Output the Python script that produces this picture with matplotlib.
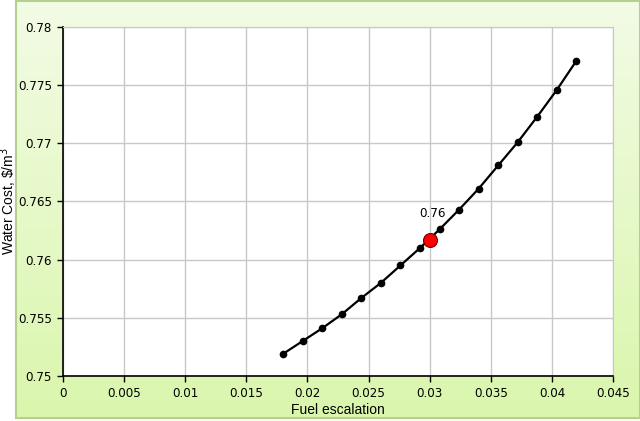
import numpy as np
import matplotlib
matplotlib.use("Agg")
import matplotlib.pyplot as plt
from matplotlib.patches import Rectangle

# values
fuel_escalation = [0.018, 0.0196, 0.0212, 0.0228, 0.0244, 0.026, 0.0276, 0.0292,
                   0.0308, 0.0324, 0.034, 0.0356, 0.0372, 0.0388, 0.0404, 0.042]
water_cost = [0.7519, 0.7530, 0.7541, 0.7553, 0.7567, 0.7580, 0.7595, 0.7610,
              0.7626, 0.7643, 0.7661, 0.7681, 0.7701, 0.7723, 0.7746, 0.7771]
base_x = 0.03
base_y = 0.7617
base_label = "0.76"

x_ticks = [0, 0.005, 0.01, 0.015, 0.02, 0.025, 0.03, 0.035, 0.04, 0.045]
x_ticklabels = ["0", "0.005", "0.01", "0.015", "0.02", "0.025", "0.03", "0.035", "0.04", "0.045"]
y_ticks = [0.75, 0.755, 0.76, 0.765, 0.77, 0.775, 0.78]
y_ticklabels = ["0.75", "0.755", "0.76", "0.765", "0.77", "0.775", "0.78"]

fig = plt.figure(figsize=(6.4, 4.21), dpi=100)
fig.patch.set_facecolor("white")

# green gradient frame behind the chart
bg = fig.add_axes([0.025, 0.007, 0.975, 0.991])
bg.set_xlim(0, 1)
bg.set_ylim(0, 1)
grad = np.linspace(0, 1, 256).reshape(-1, 1)
top_col = np.array([0.95, 0.985, 0.90])
bot_col = np.array([0.855, 0.965, 0.675])
img = bot_col + (top_col - bot_col) * grad
bg.imshow(img[:, None, :].repeat(2, axis=1), extent=(0, 1, 0, 1), origin="lower",
          aspect="auto")
bg.add_patch(Rectangle((0, 0), 1, 1, fill=False, edgecolor="#b5cf8f", lw=1.5,
                       transform=bg.transAxes, clip_on=False))
bg.axis("off")

ax = fig.add_axes([0.0984, 0.1069, 0.8596, 0.829])
ax.set_facecolor("white")
ax.plot(fuel_escalation, water_cost, color="black", lw=1.6, marker="o",
        markersize=4.5, zorder=3)
ax.plot([base_x], [base_y], marker="o", markersize=10, color="#ff0000",
        markeredgecolor="#6a0000", markeredgewidth=0.8, zorder=4)
ax.annotate(base_label, (base_x, base_y), xytext=(2, 19), textcoords="offset points",
            ha="center", va="center", fontsize=8.6, family="DejaVu Sans")

ax.set_xlim(0, 0.045)
ax.set_ylim(0.75, 0.78)
ax.set_xticks(x_ticks)
ax.set_xticklabels(x_ticklabels)
ax.set_yticks(y_ticks)
ax.set_yticklabels(y_ticklabels)
ax.grid(True, color="#c8c8c8", lw=1)
ax.set_axisbelow(True)
for s in ["top", "right"]:
    ax.spines[s].set_color("#c8c8c8")
for s in ["left", "bottom"]:
    ax.spines[s].set_color("black")
    ax.spines[s].set_linewidth(1.2)
ax.tick_params(direction="out", length=4, width=1, labelsize=8.6, pad=4)
for lab in ax.get_xticklabels() + ax.get_yticklabels():
    lab.set_family("DejaVu Sans")

ax.set_xlabel("Fuel escalation", fontsize=10, family="Liberation Sans", labelpad=2)
ax.set_ylabel(r"Water Cost, \$/m$^3$", fontsize=10, family="Liberation Sans")
ax.yaxis.label.set_verticalalignment("center")
ax.yaxis.set_label_coords(-0.098, 0.5)

fig.savefig("out.png", dpi=100)
